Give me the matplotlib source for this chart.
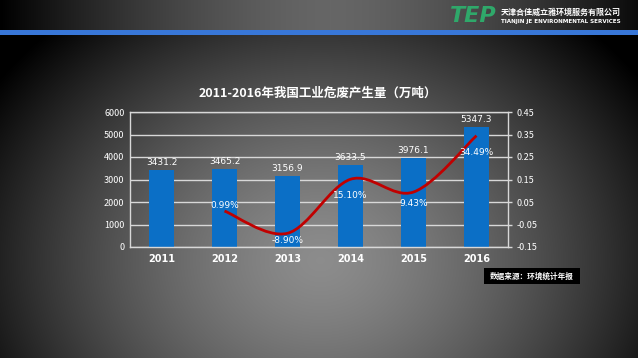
import numpy as np
import matplotlib
matplotlib.use("Agg")
import matplotlib.pyplot as plt
from matplotlib.path import Path
from matplotlib.patches import PathPatch, Rectangle

plt.rcParams["font.family"] = ["Noto Sans CJK SC", "DejaVu Sans"]

# data
years = ["2011", "2012", "2013", "2014", "2015", "2016"]
output = [3431.2, 3465.2, 3156.9, 3633.5, 3976.1, 5347.3]
growth = [0.0099, -0.0890, 0.1510, 0.0943, 0.3449]          # 2012-2016
growth_labels = ["0.99%", "-8.90%", "15.10%", "9.43%", "34.49%"]
left_ticks = [0, 1000, 2000, 3000, 4000, 5000, 6000]
right_ticks = [-0.15, -0.05, 0.05, 0.15, 0.25, 0.35, 0.45]
right_ticklabels = ["-0.15", "-0.05", "0.05", "0.15", "0.25", "0.35", "0.45"]
title = "2011-2016年我国工业危废产生量（万吨）"
source = "数据来源：环境统计年报"

W, H = 638, 358
fig = plt.figure(figsize=(W / 100, H / 100), dpi=100)

# ---- background: radial grey gradient + dark header band
bg = fig.add_axes([0, 0, 1, 1])
yy, xx = np.mgrid[0:H, 0:W]
r = np.sqrt(((xx - 320) / 390.0) ** 2 + ((yy - 260) / 320.0) ** 2)
val = np.clip(0.55 * (1 - r ** 1.4), 0, 1)
hx = np.abs(xx - 330) / 330.0
head = np.clip(0.40 * (1 - hx ** 1.5), 0, 1)
val = np.where(yy < 31, head, val)
rgb = np.dstack([val, val, val])
# blue rule under header
band = (yy >= 30) & (yy <= 34)
rgb[band] = [0.22, 0.47, 0.85]
bg.imshow(rgb, extent=[0, W, H, 0], aspect="auto", interpolation="bilinear")
bg.set_xlim(0, W)
bg.set_ylim(H, 0)
bg.axis("off")

# logo
bg.text(473, 16, "TEP", color="#2fa86a", fontsize=16, fontweight="bold",
        style="italic", ha="center", va="center", family="DejaVu Sans")
bg.text(501, 12, "天津合佳威立雅环境服务有限公司", color="white", fontsize=5.8,
        fontweight="bold", ha="left", va="center")
bg.text(501, 22, "TIANJIN JE ENVIRONMENTAL SERVICES", color="white",
        fontsize=4.1, fontweight="bold", ha="left", va="center",
        family="DejaVu Sans")

# title
bg.text(318, 93, title, color="white", fontsize=9, fontweight="bold",
        ha="center", va="center")

# source box
bg.add_patch(Rectangle((484, 268), 96, 16, facecolor="black", edgecolor="none"))
bg.text(532, 276, source, color="white", fontsize=5.5, fontweight="bold",
        ha="center", va="center")

# ---- chart
ax = fig.add_axes([130 / W, 1 - 247 / H, 378 / W, 135 / H])
ax.patch.set_alpha(0)
x = np.arange(len(years))
ax.bar(x, output, width=0.4, color="#0b6fc6", zorder=2)
ax.set_xlim(-0.5, len(years) - 0.5)
ax.set_ylim(0, 6000)
ax.set_yticks(left_ticks)
ax.set_xticks(x)
ax.set_xticklabels(years, fontweight="bold", family="DejaVu Sans")
ax.grid(axis="y", color="#d8d8d8", lw=1, zorder=1)
ax.tick_params(axis="both", colors="white", labelsize=6.5, length=0, pad=4)
ax.tick_params(axis="x", labelsize=7, pad=5)
for s in ax.spines.values():
    s.set_color("#d8d8d8")
    s.set_linewidth(1)

for xi, v in zip(x, output):
    ax.annotate(f"{v:.1f}", (xi, v), xytext=(0, 2), textcoords="offset points",
                ha="center", va="bottom", color="white", fontsize=6.5,
                family="DejaVu Sans")

ax2 = ax.twinx()
ax2.set_ylim(-0.15, 0.45)
ax2.set_yticks(right_ticks)
ax2.set_yticklabels(right_ticklabels)
ax2.tick_params(axis="y", colors="#d8d8d8", labelcolor="white", labelsize=6.5,
                length=3, width=1, pad=3)
for s in ax2.spines.values():
    s.set_visible(False)

# smoothed line (Catmull-Rom as cubic Bezier)
px = x[1:].astype(float)
py = np.array(growth)
pts = np.column_stack([px, py])
ext = np.vstack([pts[0], pts, pts[-1]])
verts = [tuple(pts[0])]
codes = [Path.MOVETO]
for i in range(len(pts) - 1):
    p0, p1, p2, p3 = ext[i], ext[i + 1], ext[i + 2], ext[i + 3]
    c1 = p1 + (p2 - p0) / 6.0
    c2 = p2 - (p3 - p1) / 6.0
    verts += [tuple(c1), tuple(c2), tuple(p2)]
    codes += [Path.CURVE4] * 3
ax2.add_patch(PathPatch(Path(verts, codes), facecolor="none",
                        edgecolor="#c00000", lw=2, zorder=3, clip_on=False))

offsets = [6, -7, -16, -11, -17]
for xi, v, lab, off in zip(px, growth, growth_labels, offsets):
    ax2.annotate(lab, (xi, v), xytext=(0, off), textcoords="offset pixels",
                 ha="center", va="center", color="white", fontsize=6.5,
                 family="DejaVu Sans", zorder=4)

fig.savefig("out.png", dpi=100)
